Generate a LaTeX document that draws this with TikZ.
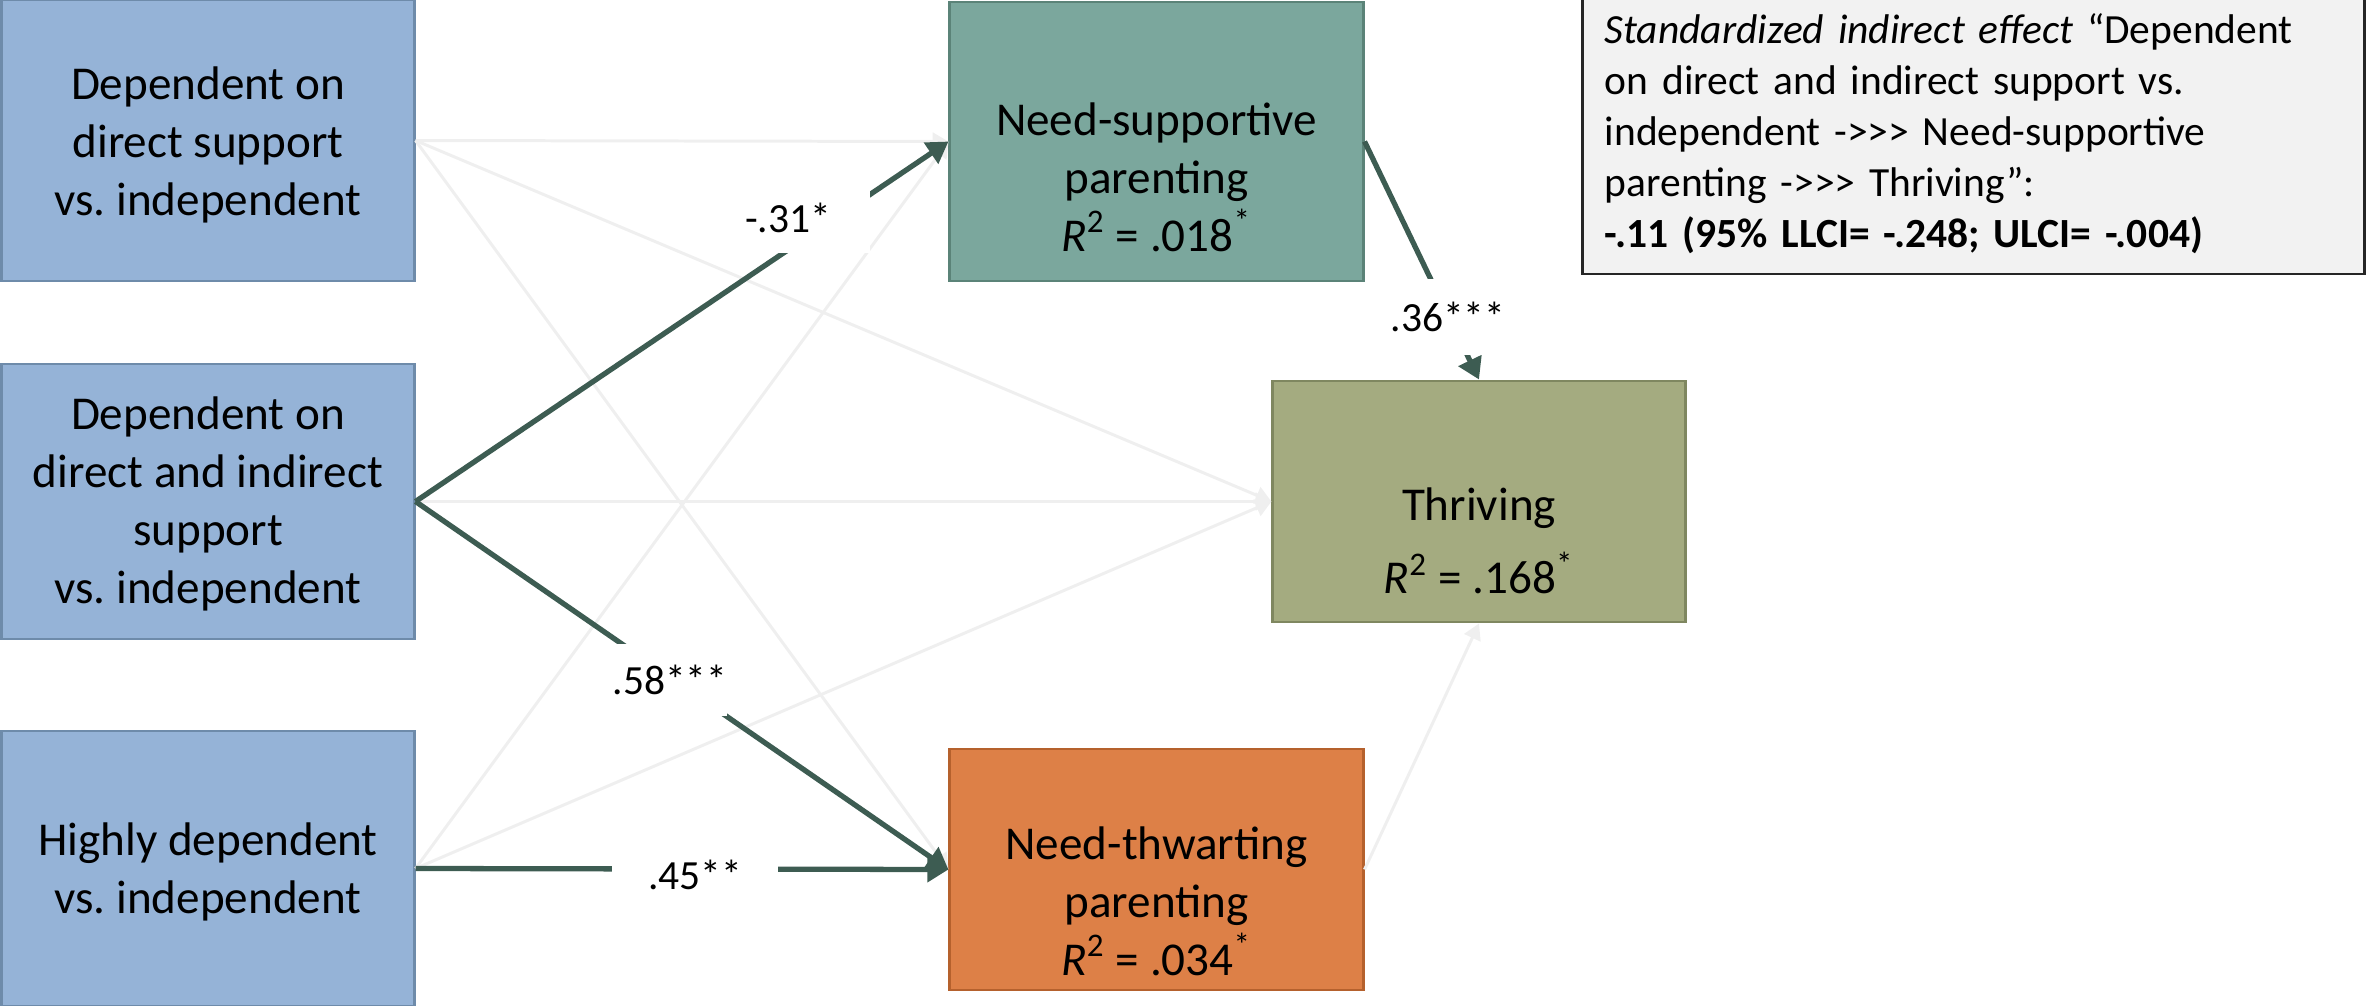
\documentclass[tikz,border=0pt]{standalone}
\usepackage{fontspec}
\setmainfont{Carlito}
\usetikzlibrary{arrows.meta}
\definecolor{bluefill}{HTML}{95B3D7}
\definecolor{blueline}{HTML}{6E8BAA}
\definecolor{nsfill}{HTML}{7BA79D}
\definecolor{nsline}{HTML}{5B8378}
\definecolor{thrfill}{HTML}{A4AB80}
\definecolor{thrline}{HTML}{7F8760}
\definecolor{ntfill}{HTML}{DD8047}
\definecolor{ntline}{HTML}{B5612D}
\definecolor{arrdark}{HTML}{3D5C52}
\definecolor{arrgray}{HTML}{EFEFEF}
\definecolor{notefill}{HTML}{F2F2F2}
\definecolor{noteline}{HTML}{262626}
\begin{document}
\begin{tikzpicture}[x=0.01cm,y=-0.01cm,
  box/.style={rectangle, draw, line width=0.8pt, inner sep=0pt},
  boxtxt/.style={align=center, inner sep=0pt, font=\fontsize{13.4}{16.5}\selectfont},
  garrow/.style={draw=arrgray, line width=0.85pt, -{Triangle[length=4.5pt,width=5pt]}},
  darrow/.style={draw=arrdark, line width=1.5pt, -{Triangle[length=6pt,width=7pt]}},
  lbl/.style={fill=white, inner sep=0pt, font=\fontsize{11.8}{14}\selectfont}]
\useasboundingbox (0,0) rectangle (2366,1006);

% boxes
\node[box, fill=bluefill, draw=blueline, minimum width=4.12cm, minimum height=2.81cm] (dds) at (208,140.5) {};
\node[box, fill=bluefill, draw=blueline, minimum width=4.12cm, minimum height=2.75cm] (ddis) at (208,501.5) {};
\node[box, fill=bluefill, draw=blueline, minimum width=4.12cm, minimum height=2.75cm] (hd) at (208,868.5) {};
\node[box, fill=nsfill, draw=nsline, minimum width=4.13cm, minimum height=2.79cm] (ns) at (1156.5,141.5) {};
\node[box, fill=thrfill, draw=thrline, minimum width=4.12cm, minimum height=2.41cm] (thr) at (1479,501.5) {};
\node[box, fill=ntfill, draw=ntline, minimum width=4.13cm, minimum height=2.41cm] (nt) at (1156.5,869.5) {};

% box texts
\node[boxtxt] (tdds) at (208,145) {Dependent on\\direct support\\vs.\ independent};
\node[boxtxt] (tddis) at (208,504) {Dependent on\\direct and indirect\\support\\vs.\ independent};
\node[boxtxt] (thd) at (208,872) {Highly dependent\\vs.\ independent};
\node[boxtxt] (tns) at (1156.5,177) {Need-supportive\\parenting\\\textit{R}\textsuperscript{2} = .018\textsuperscript{*}};
\node[boxtxt, font=\fontsize{13.4}{20.8}\selectfont] (tthr) at (1479,541) {Thriving\\\textit{R}\textsuperscript{2} = .168\textsuperscript{*}};
\node[boxtxt] (tnt) at (1156.5,901) {Need-thwarting\\parenting\\\textit{R}\textsuperscript{2} = .034\textsuperscript{*}};

% note
\node[rectangle, draw=noteline, fill=notefill, line width=0.8pt, minimum width=7.81cm, minimum height=2.80cm,
      text width=7.37cm, align=left, inner xsep=0.22cm, inner ysep=0pt,
      font=\fontsize{11.8}{14.5}\selectfont] (note) at (1973.5,134)
  {\textit{Standardized indirect effect} “Dependent\\
   on direct and indirect support vs.\\
   independent -{>}{>}{>} Need-supportive\\
   parenting -{>}{>}{>} Thriving”:\\
   \textbf{-.11 (95\% LLCI= -.248; ULCI= -.004)}};

% non-significant paths
\draw[garrow] (dds.east) -- (ns.west);
\draw[garrow] (dds.east) -- (thr.west);
\draw[garrow] (dds.east) -- (nt.west);
\draw[garrow] (ddis.east) -- (thr.west);
\draw[garrow] (hd.east) -- (ns.west);
\draw[garrow] (hd.east) -- (thr.west);
\draw[garrow] (nt.east) -- (thr.south);

% significant paths
\draw[darrow] (ddis.east) -- (ns.west);
\draw[darrow] (ddis.east) -- (nt.west);
\draw[darrow] (hd.east) -- (nt.west);
\draw[darrow] (ns.east) -- (thr.north);

% labels
\node[lbl, minimum width=1.64cm, minimum height=0.70cm] (l31) at (788,218) {-.31*};
\node[lbl, minimum width=1.02cm, minimum height=0.72cm] (l58) at (670,680) {.58***};
\node[lbl, minimum width=1.66cm, minimum height=0.40cm] (l45) at (695,875) {.45**};
\node[lbl, minimum width=1.20cm, minimum height=0.76cm] (l36) at (1448,317) {.36***};
\end{tikzpicture}
\end{document}
